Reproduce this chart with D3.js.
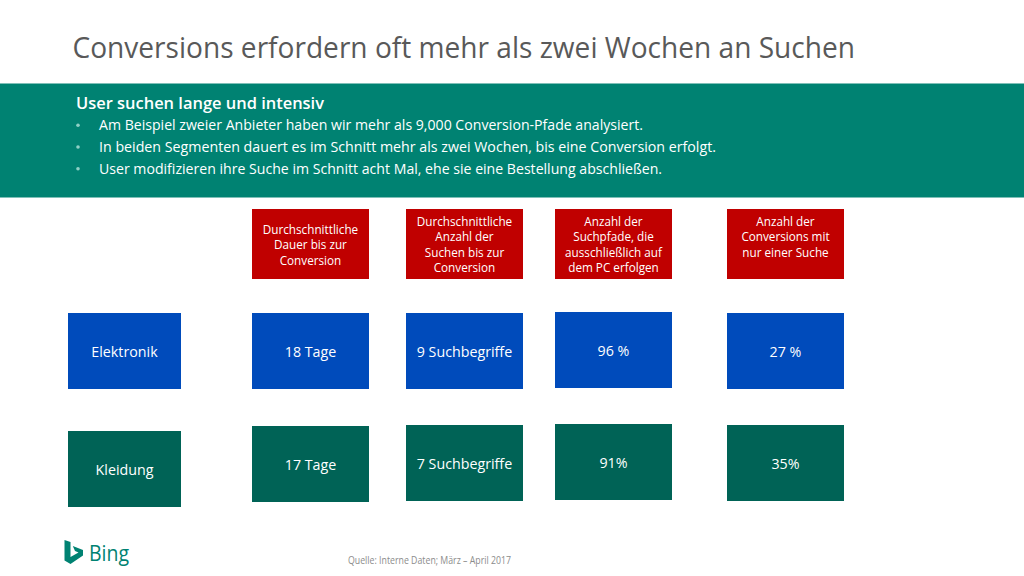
<!DOCTYPE html>
<html>
<head>
<meta charset="utf-8">
<script src="https://cdnjs.cloudflare.com/ajax/libs/d3/7.8.5/d3.min.js"></script>
<style>
html, body { margin: 0; padding: 0; background: #fff; overflow: hidden; }
text { font-family: "Open Sans", "Noto Sans", sans-serif; }
</style>
</head>
<body>
<script>
// chart content
var title = "Conversions erfordern oft mehr als zwei Wochen an Suchen";
var bandHeading = "User suchen lange und intensiv";
var bandBullets = [
	"Am Beispiel zweier Anbieter haben wir mehr als 9,000 Conversion-Pfade analysiert.",
	"In beiden Segmenten dauert es im Schnitt mehr als zwei Wochen, bis eine Conversion erfolgt.",
	"User modifizieren ihre Suche im Schnitt acht Mal, ehe sie eine Bestellung abschließen."
];
var metrics = ["dauer", "suchen", "pc", "einzel"];
var metricLabels = [
	["Durchschnittliche", "Dauer bis zur", "Conversion"],
	["Durchschnittliche", "Anzahl der", "Suchen bis zur", "Conversion"],
	["Anzahl der", "Suchpfade, die", "ausschließlich auf", "dem PC erfolgen"],
	["Anzahl der", "Conversions mit", "nur einer Suche", ""]
];
var segments = ["Elektronik", "Kleidung"];
var elektronikValues = ["18 Tage", "9 Suchbegriffe", "96 %", "27 %"];
var kleidungValues = ["17 Tage", "7 Suchbegriffe", "91%", "35%"];
var source = "Quelle: Interne Daten; März – April 2017";

// layout
var width = 1024, height = 576;
var boxW = 117, boxH = 76, headH = 70;

var x = d3.scaleOrdinal().domain(metrics).range([252, 406, 555, 727]);
var yElektronik = d3.scaleOrdinal().domain(metrics).range([313, 313, 312, 313]);
var yKleidung = d3.scaleOrdinal().domain(metrics).range([426, 425, 424, 425]);
var ySegment = d3.scaleOrdinal().domain(segments).range([313, 431]);

var svg = d3.select("body").append("svg")
	.attr("width", width)
	.attr("height", height)
	.style("display", "block");

// squeeze a text horizontally, the original font runs narrower than Open Sans
function squeeze(sel, factor) {
	sel.each(function() {
		var len = this.getComputedTextLength();
		if (len > 0) {
			d3.select(this)
				.attr("textLength", len * factor)
				.attr("lengthAdjust", "spacingAndGlyphs");
		}
	});
}

// title
svg.append("text")
	.attr("x", 72.5)
	.attr("y", 58)
	.attr("font-size", 28.5)
	.attr("fill", "#595959")
	.attr("textLength", 782.5)
	.attr("lengthAdjust", "spacingAndGlyphs")
	.text(title);

// green band
svg.append("rect")
	.attr("x", 0).attr("y", 83.5)
	.attr("width", width).attr("height", 114)
	.attr("fill", "#008272");

svg.append("text")
	.attr("x", 76).attr("y", 109)
	.attr("font-size", 16.5)
	.attr("font-weight", 600)
	.attr("fill", "#fff")
	.attr("textLength", 248)
	.attr("lengthAdjust", "spacingAndGlyphs")
	.text(bandHeading);

var bulletWidths = [544, 617, 563];
var bullets = svg.selectAll(".bullet")
	.data(bandBullets)
	.enter().append("g")
	.attr("class", "bullet")
	.attr("transform", function(d, i) { return "translate(0," + (130.3 + i * 21.7) + ")"; });

bullets.append("circle")
	.attr("cx", 78).attr("cy", -5)
	.attr("r", 1.8)
	.attr("fill", "#8fd0c6");

bullets.append("text")
	.attr("x", 99)
	.attr("font-size", 15)
	.attr("fill", "#fff")
	.attr("textLength", function(d, i) { return bulletWidths[i]; })
	.attr("lengthAdjust", "spacingAndGlyphs")
	.text(function(d) { return d; });

// red column headers
var heads = svg.selectAll(".head")
	.data(metrics)
	.enter().append("g")
	.attr("class", "head")
	.attr("transform", function(d) { return "translate(" + x(d) + ",209)"; });

heads.append("rect")
	.attr("width", boxW)
	.attr("height", headH)
	.attr("fill", "#c00000");

heads.each(function(d, i) {
	var lines = metricLabels[i];
	d3.select(this).selectAll("text")
		.data(lines)
		.enter().append("text")
		.attr("x", boxW / 2)
		.attr("y", function(l, j) { return headH / 2 + 5 + (j - (lines.length - 1) / 2) * 15.5; })
		.attr("text-anchor", "middle")
		.attr("font-size", 12.6)
		.attr("font-weight", 500)
		.attr("fill", "#fff")
		.text(function(l) { return l; })
		.call(squeeze, 0.93);
});

// segment labels and value boxes
function box(sel, bx, by, w, h, fill, label, dy) {
	var g = sel.append("g").attr("transform", "translate(" + bx + "," + by + ")");
	g.append("rect").attr("width", w).attr("height", h).attr("fill", fill);
	g.append("text")
		.attr("x", w / 2)
		.attr("y", h / 2 + dy)
		.attr("text-anchor", "middle")
		.attr("font-size", 15)
		.attr("font-weight", 500)
		.attr("fill", "#fff")
		.text(label)
		.call(squeeze, 0.95);
}

var blue = "#004bbb", darkGreen = "#006356";

segments.forEach(function(s, i) {
	box(svg, 68, ySegment(s), 113, boxH, i === 0 ? blue : darkGreen, s, 6);
});

metrics.forEach(function(m, i) {
	box(svg, x(m), yElektronik(m), boxW, boxH, blue, elektronikValues[i], 6);
	box(svg, x(m), yKleidung(m), boxW, boxH, darkGreen, kleidungValues[i], 6);
});

// footer
var logo = svg.append("g").attr("transform", "translate(64,540)");
logo.append("path")
	.attr("d", "M0.5,0 L6.5,2 L6.5,17 L14.5,12.5 L11,11 L8.8,6 L19,10 L19,15.5 L6.5,24 L0.5,20.5 Z")
	.attr("fill", "#008272");
svg.append("text")
	.attr("x", 89).attr("y", 561)
	.attr("font-size", 21)
	.attr("fill", "#008272")
	.attr("textLength", 40)
	.attr("lengthAdjust", "spacingAndGlyphs")
	.text("Bing");

svg.append("text")
	.attr("x", 348).attr("y", 563.5)
	.attr("font-size", 11.5)
	.attr("fill", "#8c8c8c")
	.attr("textLength", 163)
	.attr("lengthAdjust", "spacingAndGlyphs")
	.text(source);
</script>
</body>
</html>
